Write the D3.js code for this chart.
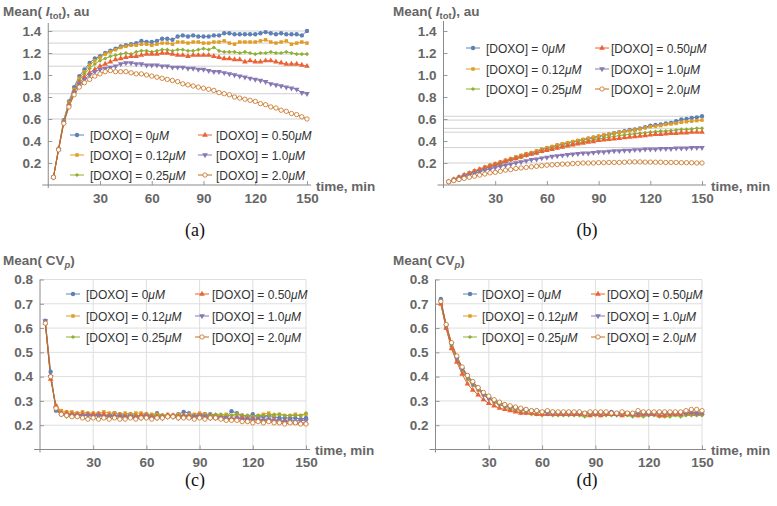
<!DOCTYPE html>
<html lang="en">
<head>
<meta charset="UTF-8" />
<title>DOXO means</title>
<style>
  body { margin: 0; background: #fff; }
  svg { font-family: "Liberation Sans", Arial, sans-serif; }
  .tick text { font-size: 13.5px; font-weight: bold; fill: #666; }
  .tick line { stroke: #999; }
  .leg { font-size: 12px; fill: #333; }
  .axlab { font-size: 13.5px; font-weight: bold; fill: #666; }
  .cap { font-family: "Liberation Serif", "Times New Roman", serif; font-size: 18px; fill: #111; }
</style>
</head>
<body>
<svg id="fig" width="777" height="506"></svg>
<script src="https://d3js.org/d3.v7.min.js"></script>
<script>
// ---- data ----
const times = [3, 6, 9, 12, 15, 18, 21, 24, 27, 30,
               33, 36, 39, 42, 45, 48, 51, 54, 57, 60,
               63, 66, 69, 72, 75, 78, 81, 84, 87, 90,
               93, 96, 99, 102, 105, 108, 111, 114, 117, 120,
               123, 126, 129, 132, 135, 138, 141, 144, 147, 150];
const doses = ["0", "0.12", "0.25", "0.50", "1.0", "2.0"];
const colors = ["#5E81B5", "#E19C24", "#8FB032", "#EB6235", "#8778B3", "#C56E1A"];
const xTicks = [30, 60, 90, 120, 150];
const yTicksI = [0.2, 0.4, 0.6, 0.8, 1.0, 1.2, 1.4];
const yTicksCV = [0.2, 0.3, 0.4, 0.5, 0.6, 0.7, 0.8];
const captions = ["(a)", "(b)", "(c)", "(d)"];

// (a) Mean(I_tot)
const a0 = [0.07, 0.33, 0.59, 0.76, 0.89, 0.99, 1.05, 1.11, 1.15, 1.17,
            1.20, 1.22, 1.24, 1.26, 1.27, 1.28, 1.29, 1.31, 1.30, 1.30,
            1.31, 1.33, 1.33, 1.32, 1.35, 1.36, 1.35, 1.36, 1.35, 1.35,
            1.35, 1.36, 1.36, 1.38, 1.38, 1.37, 1.37, 1.37, 1.37, 1.37,
            1.38, 1.39, 1.38, 1.37, 1.38, 1.37, 1.37, 1.37, 1.36, 1.40];
const a012 = [0.07, 0.33, 0.58, 0.75, 0.87, 0.97, 1.03, 1.09, 1.13, 1.16,
              1.19, 1.21, 1.23, 1.25, 1.26, 1.27, 1.27, 1.28, 1.28, 1.27,
              1.28, 1.29, 1.29, 1.28, 1.30, 1.30, 1.29, 1.30, 1.30, 1.29,
              1.29, 1.30, 1.30, 1.31, 1.29, 1.28, 1.30, 1.30, 1.30, 1.30,
              1.31, 1.32, 1.30, 1.29, 1.30, 1.31, 1.28, 1.29, 1.30, 1.29];
const a025 = [0.07, 0.33, 0.58, 0.74, 0.86, 0.95, 1.01, 1.06, 1.10, 1.13,
              1.15, 1.17, 1.18, 1.19, 1.20, 1.19, 1.21, 1.22, 1.22, 1.21,
              1.22, 1.23, 1.23, 1.22, 1.23, 1.23, 1.22, 1.22, 1.23, 1.24,
              1.23, 1.25, 1.22, 1.21, 1.21, 1.21, 1.20, 1.21, 1.20, 1.19,
              1.20, 1.20, 1.21, 1.20, 1.20, 1.21, 1.20, 1.19, 1.19, 1.19];
const a050 = [0.07, 0.33, 0.57, 0.73, 0.85, 0.93, 0.98, 1.02, 1.05, 1.08,
              1.10, 1.12, 1.14, 1.15, 1.16, 1.17, 1.17, 1.18, 1.19, 1.19,
              1.19, 1.20, 1.20, 1.19, 1.18, 1.18, 1.17, 1.18, 1.18, 1.18,
              1.18, 1.17, 1.16, 1.15, 1.15, 1.14, 1.14, 1.12, 1.13, 1.12,
              1.12, 1.13, 1.13, 1.12, 1.11, 1.10, 1.10, 1.10, 1.09, 1.08];
const a10 = [0.07, 0.32, 0.57, 0.72, 0.84, 0.92, 0.96, 1.00, 1.03, 1.05,
             1.06, 1.07, 1.08, 1.10, 1.11, 1.11, 1.10, 1.10, 1.09, 1.09,
             1.09, 1.08, 1.08, 1.07, 1.07, 1.07, 1.06, 1.06, 1.05, 1.05,
             1.04, 1.03, 1.03, 1.02, 1.01, 1.00, 0.99, 0.98, 0.97, 0.96,
             0.95, 0.94, 0.92, 0.91, 0.90, 0.89, 0.88, 0.87, 0.84, 0.83];
const a20 = [0.07, 0.32, 0.56, 0.71, 0.82, 0.89, 0.93, 0.96, 0.99, 1.01,
             1.03, 1.04, 1.03, 1.03, 1.03, 1.02, 1.01, 1.01, 1.00, 0.99,
             0.98, 0.97, 0.96, 0.95, 0.94, 0.92, 0.91, 0.90, 0.89, 0.88,
             0.87, 0.86, 0.84, 0.83, 0.82, 0.80, 0.79, 0.78, 0.77, 0.76,
             0.74, 0.73, 0.71, 0.70, 0.68, 0.67, 0.65, 0.64, 0.62, 0.60];

// (b) Mean(I_tot)
const b0 = [0.03, 0.05, 0.07, 0.09, 0.11, 0.125, 0.14, 0.16, 0.175, 0.19,
            0.205, 0.22, 0.235, 0.25, 0.265, 0.28, 0.29, 0.305, 0.32, 0.335,
            0.345, 0.36, 0.37, 0.38, 0.39, 0.40, 0.41, 0.42, 0.43, 0.44,
            0.45, 0.46, 0.47, 0.48, 0.49, 0.50, 0.505, 0.515, 0.525, 0.54,
            0.545, 0.55, 0.56, 0.565, 0.58, 0.595, 0.60, 0.61, 0.615, 0.625];
const b012 = [0.03, 0.05, 0.07, 0.09, 0.11, 0.13, 0.145, 0.165, 0.18, 0.195,
              0.21, 0.225, 0.24, 0.255, 0.27, 0.285, 0.295, 0.31, 0.325, 0.34,
              0.35, 0.365, 0.375, 0.385, 0.395, 0.405, 0.415, 0.425, 0.435, 0.445,
              0.455, 0.46, 0.47, 0.48, 0.485, 0.495, 0.50, 0.51, 0.52, 0.53,
              0.535, 0.54, 0.55, 0.555, 0.56, 0.57, 0.575, 0.58, 0.585, 0.59];
const b025 = [0.03, 0.045, 0.065, 0.085, 0.10, 0.12, 0.135, 0.15, 0.165, 0.18,
              0.195, 0.21, 0.225, 0.24, 0.25, 0.265, 0.28, 0.29, 0.305, 0.32,
              0.33, 0.34, 0.35, 0.36, 0.37, 0.38, 0.39, 0.40, 0.41, 0.42,
              0.425, 0.435, 0.44, 0.45, 0.455, 0.46, 0.465, 0.47, 0.475, 0.48,
              0.485, 0.49, 0.49, 0.495, 0.50, 0.505, 0.505, 0.51, 0.515, 0.515];
const b050 = [0.03, 0.05, 0.07, 0.09, 0.105, 0.125, 0.14, 0.155, 0.17, 0.185,
              0.20, 0.215, 0.23, 0.24, 0.255, 0.27, 0.28, 0.29, 0.305, 0.315,
              0.325, 0.335, 0.345, 0.355, 0.365, 0.375, 0.38, 0.39, 0.395, 0.405,
              0.41, 0.415, 0.42, 0.425, 0.43, 0.435, 0.44, 0.445, 0.45, 0.455,
              0.46, 0.46, 0.465, 0.47, 0.47, 0.475, 0.475, 0.48, 0.48, 0.48];
const b10 = [0.03, 0.045, 0.06, 0.075, 0.09, 0.105, 0.12, 0.135, 0.145, 0.16,
             0.17, 0.18, 0.19, 0.20, 0.21, 0.22, 0.23, 0.235, 0.245, 0.25,
             0.26, 0.265, 0.27, 0.275, 0.28, 0.285, 0.29, 0.29, 0.295, 0.30,
             0.30, 0.305, 0.31, 0.31, 0.315, 0.315, 0.32, 0.32, 0.325, 0.325,
             0.325, 0.33, 0.33, 0.33, 0.335, 0.335, 0.335, 0.34, 0.34, 0.34];
const b20 = [0.03, 0.04, 0.05, 0.06, 0.07, 0.08, 0.09, 0.10, 0.11, 0.115,
             0.125, 0.135, 0.14, 0.15, 0.155, 0.16, 0.165, 0.17, 0.175, 0.18,
             0.183, 0.186, 0.19, 0.19, 0.195, 0.197, 0.20, 0.20, 0.20, 0.203,
             0.203, 0.205, 0.205, 0.205, 0.207, 0.21, 0.21, 0.21, 0.208, 0.208,
             0.207, 0.207, 0.205, 0.205, 0.205, 0.203, 0.203, 0.202, 0.20, 0.20];

// (c) Mean(CV_p)
const c0 = [0.63, 0.42, 0.26, 0.245, 0.245, 0.245, 0.245, 0.24, 0.245, 0.24,
            0.245, 0.24, 0.24, 0.25, 0.245, 0.24, 0.245, 0.24, 0.24, 0.245,
            0.24, 0.25, 0.24, 0.24, 0.24, 0.245, 0.255, 0.25, 0.24, 0.245,
            0.245, 0.245, 0.24, 0.235, 0.235, 0.258, 0.25, 0.24, 0.235, 0.245,
            0.235, 0.235, 0.24, 0.235, 0.23, 0.23, 0.23, 0.23, 0.225, 0.23];
const c012 = [0.62, 0.40, 0.28, 0.26, 0.255, 0.255, 0.25, 0.255, 0.25, 0.25,
              0.25, 0.255, 0.25, 0.25, 0.245, 0.25, 0.245, 0.25, 0.25, 0.245,
              0.245, 0.245, 0.24, 0.245, 0.24, 0.245, 0.24, 0.245, 0.245, 0.25,
              0.245, 0.24, 0.24, 0.24, 0.245, 0.24, 0.245, 0.24, 0.24, 0.235,
              0.24, 0.245, 0.25, 0.24, 0.245, 0.24, 0.24, 0.245, 0.24, 0.245];
const c025 = [0.62, 0.40, 0.27, 0.245, 0.235, 0.24, 0.24, 0.24, 0.245, 0.24,
              0.24, 0.235, 0.24, 0.24, 0.24, 0.235, 0.24, 0.24, 0.235, 0.24,
              0.24, 0.24, 0.24, 0.24, 0.235, 0.24, 0.24, 0.235, 0.24, 0.24,
              0.24, 0.24, 0.245, 0.245, 0.24, 0.24, 0.245, 0.24, 0.24, 0.235,
              0.24, 0.24, 0.24, 0.245, 0.245, 0.24, 0.24, 0.24, 0.24, 0.25];
const c050 = [0.62, 0.39, 0.28, 0.25, 0.25, 0.245, 0.245, 0.245, 0.245, 0.245,
              0.245, 0.245, 0.24, 0.24, 0.24, 0.235, 0.235, 0.235, 0.24, 0.24,
              0.235, 0.235, 0.235, 0.24, 0.24, 0.235, 0.24, 0.235, 0.235, 0.24,
              0.235, 0.235, 0.23, 0.23, 0.225, 0.225, 0.23, 0.23, 0.225, 0.225,
              0.22, 0.22, 0.22, 0.22, 0.215, 0.215, 0.215, 0.21, 0.21, 0.21];
const c10 = [0.63, 0.40, 0.27, 0.245, 0.24, 0.24, 0.24, 0.24, 0.24, 0.235,
             0.24, 0.235, 0.235, 0.235, 0.235, 0.23, 0.235, 0.23, 0.23, 0.235,
             0.23, 0.23, 0.23, 0.235, 0.235, 0.23, 0.235, 0.235, 0.235, 0.235,
             0.235, 0.23, 0.23, 0.23, 0.23, 0.225, 0.23, 0.225, 0.225, 0.225,
             0.225, 0.22, 0.225, 0.22, 0.22, 0.215, 0.22, 0.215, 0.22, 0.22];
const c20 = [0.62, 0.40, 0.27, 0.245, 0.24, 0.235, 0.235, 0.23, 0.225, 0.23,
             0.225, 0.23, 0.225, 0.23, 0.225, 0.225, 0.23, 0.225, 0.23, 0.23,
             0.225, 0.23, 0.23, 0.235, 0.235, 0.23, 0.23, 0.23, 0.225, 0.23,
             0.225, 0.23, 0.23, 0.225, 0.22, 0.22, 0.22, 0.215, 0.215, 0.21,
             0.215, 0.21, 0.215, 0.21, 0.21, 0.205, 0.21, 0.21, 0.205, 0.205];

// (d) Mean(CV_p)
const d0 = [0.72, 0.61, 0.535, 0.48, 0.435, 0.405, 0.375, 0.355, 0.33, 0.315,
            0.30, 0.29, 0.285, 0.275, 0.27, 0.265, 0.265, 0.26, 0.26, 0.255,
            0.255, 0.255, 0.25, 0.25, 0.255, 0.25, 0.25, 0.25, 0.25, 0.25,
            0.25, 0.25, 0.255, 0.25, 0.25, 0.245, 0.25, 0.245, 0.25, 0.25,
            0.25, 0.25, 0.25, 0.25, 0.245, 0.25, 0.25, 0.25, 0.245, 0.245];
const d012 = [0.70, 0.60, 0.52, 0.465, 0.425, 0.39, 0.365, 0.345, 0.325, 0.31,
              0.295, 0.285, 0.28, 0.27, 0.265, 0.26, 0.26, 0.255, 0.255, 0.25,
              0.255, 0.25, 0.25, 0.25, 0.25, 0.245, 0.245, 0.25, 0.245, 0.245,
              0.245, 0.25, 0.245, 0.245, 0.245, 0.245, 0.245, 0.24, 0.245, 0.245,
              0.245, 0.24, 0.245, 0.245, 0.245, 0.25, 0.245, 0.245, 0.25, 0.245];
const d025 = [0.70, 0.60, 0.525, 0.47, 0.425, 0.39, 0.365, 0.345, 0.325, 0.31,
              0.295, 0.285, 0.275, 0.265, 0.26, 0.25, 0.25, 0.245, 0.245, 0.24,
              0.245, 0.24, 0.24, 0.24, 0.24, 0.24, 0.24, 0.235, 0.24, 0.24,
              0.24, 0.24, 0.24, 0.24, 0.24, 0.24, 0.235, 0.24, 0.235, 0.24,
              0.24, 0.235, 0.235, 0.235, 0.24, 0.235, 0.24, 0.24, 0.24, 0.24];
const d050 = [0.70, 0.60, 0.515, 0.46, 0.41, 0.37, 0.345, 0.325, 0.305, 0.29,
              0.28, 0.27, 0.265, 0.26, 0.255, 0.25, 0.25, 0.25, 0.245, 0.245,
              0.245, 0.245, 0.245, 0.245, 0.245, 0.245, 0.245, 0.245, 0.24, 0.245,
              0.24, 0.245, 0.245, 0.245, 0.24, 0.245, 0.245, 0.24, 0.245, 0.245,
              0.245, 0.24, 0.24, 0.245, 0.245, 0.245, 0.25, 0.25, 0.25, 0.25];
const d10 = [0.71, 0.61, 0.535, 0.475, 0.43, 0.40, 0.37, 0.35, 0.325, 0.31,
             0.30, 0.29, 0.28, 0.275, 0.27, 0.265, 0.26, 0.26, 0.255, 0.255,
             0.25, 0.25, 0.25, 0.25, 0.25, 0.25, 0.25, 0.25, 0.25, 0.25,
             0.25, 0.25, 0.25, 0.245, 0.25, 0.25, 0.245, 0.25, 0.25, 0.245,
             0.25, 0.25, 0.25, 0.25, 0.25, 0.25, 0.25, 0.255, 0.25, 0.25];
const d20 = [0.71, 0.615, 0.54, 0.485, 0.44, 0.405, 0.38, 0.355, 0.335, 0.32,
             0.305, 0.295, 0.285, 0.28, 0.275, 0.27, 0.265, 0.26, 0.26, 0.255,
             0.26, 0.255, 0.255, 0.255, 0.255, 0.255, 0.255, 0.25, 0.255, 0.255,
             0.255, 0.255, 0.25, 0.25, 0.255, 0.25, 0.25, 0.26, 0.255, 0.255,
             0.255, 0.255, 0.255, 0.255, 0.255, 0.255, 0.26, 0.265, 0.265, 0.26];

// ---- drawing ----
const svg = d3.select("#fig");

const shapes = [d3.symbolCircle, d3.symbolSquare, d3.symbolSquare, d3.symbolTriangle, d3.symbolTriangle, d3.symbolCircle];
const sizes = [15, 12, 9, 14, 14, 15];
const rots = [0, 0, 45, 0, 180, 0];

function marker(sel, i) {
  sel.attr("d", d3.symbol(shapes[i], sizes[i])())
     .attr("fill", i === 5 ? "white" : colors[i])
     .attr("stroke", i === 5 ? colors[i] : "none")
     .attr("stroke-width", 0.8);
}

function drawPanel(p) {
  const g = svg.append("g");
  const x = d3.scaleLinear().domain([0, 150]).range([p.left, p.right]);
  const y = d3.scaleLinear().domain(p.yDomain).range([p.bottom, p.top]);

  // grid lines
  if (p.grid === "ends") {
    g.append("g").selectAll("line")
      .data(p.series.map(s => s[s.length - 1]))
      .join("line")
      .attr("x1", x(0)).attr("x2", x(150))
      .attr("y1", d => y(d)).attr("y2", d => y(d))
      .attr("stroke", "#d0d0d0");
  } else {
    g.append("g").selectAll("line")
      .data(p.yTicks)
      .join("line")
      .attr("x1", x(0)).attr("x2", x(150))
      .attr("y1", d => y(d)).attr("y2", d => y(d))
      .attr("stroke", "#dedede");
    g.append("g").selectAll("line")
      .data(xTicks)
      .join("line")
      .attr("x1", d => x(d)).attr("x2", d => x(d))
      .attr("y1", y(p.yDomain[0])).attr("y2", y(p.yTicks[p.yTicks.length - 1]))
      .attr("stroke", "#dedede");
  }

  // axes
  const xAxis = d3.axisBottom(x).tickValues(xTicks).tickSizeInner(-4).tickSizeOuter(0).tickPadding(8)
    .tickFormat(d3.format("d"));
  const gx = g.append("g").attr("transform", `translate(0,${p.bottom})`).call(xAxis);
  gx.select(".domain").remove();

  const yAxis = d3.axisLeft(y).tickValues(p.yTicks).tickSizeInner(-4).tickSizeOuter(0).tickPadding(7)
    .tickFormat(d3.format(".1f"));
  const gy = g.append("g").attr("transform", `translate(${x(0)},0)`).call(yAxis);
  gy.select(".domain").remove();

  g.append("line")
    .attr("x1", x(0) - 6).attr("x2", x(150) + 4)
    .attr("y1", p.bottom).attr("y2", p.bottom)
    .attr("stroke", "#8a8a8a");
  g.append("line")
    .attr("x1", x(0)).attr("x2", x(0))
    .attr("y1", p.bottom + 3).attr("y2", p.axisTop)
    .attr("stroke", "#8a8a8a");

  // series: lines then markers, in order
  const line = d3.line().x(d => x(d[0])).y(d => y(d[1]));
  p.series.forEach((vals, i) => {
    const pts = times.map((t, k) => [t, vals[k]]);
    g.append("path").datum(pts)
      .attr("d", line).attr("fill", "none")
      .attr("stroke", colors[i]).attr("stroke-width", 1);
  });
  p.series.forEach((vals, i) => {
    const pts = times.map((t, k) => [t, vals[k]]);
    g.append("g").selectAll("path").data(pts).join("path")
      .attr("transform", d => `translate(${x(d[0])},${y(d[1])}) rotate(${rots[i]})`)
      .call(marker, i);
  });

  // legend
  doses.forEach((dose, i) => {
    const col = Math.floor(i / 3), row = i % 3;
    const mx = p.legend.mx[col], tx = p.legend.tx[col], ly = p.legend.y[row];
    g.append("line").attr("x1", mx - 7).attr("x2", mx + 7).attr("y1", ly).attr("y2", ly)
      .attr("stroke", colors[i]);
    g.append("path").attr("transform", `translate(${mx},${ly}) rotate(${rots[i]})`).call(marker, i);
    const t = g.append("text").attr("class", "leg").attr("x", tx).attr("y", ly + 4.5);
    t.append("tspan").text(`[DOXO] = ${dose}`);
    t.append("tspan").attr("font-style", "italic").text("\u03bcM");
  });

  // axis labels
  const yl = g.append("text").attr("class", "axlab").attr("x", p.ylabX).attr("y", p.ylabY);
  if (p.kind === "I") {
    yl.append("tspan").text("Mean( ");
    yl.append("tspan").attr("font-style", "italic").text("I");
    yl.append("tspan").attr("font-size", "9.5px").attr("dy", 3).text("tot");
    yl.append("tspan").attr("dy", -3).text("), au");
  } else {
    yl.append("tspan").text("Mean( CV");
    yl.append("tspan").attr("font-size", "9.5px").attr("font-style", "italic").attr("dy", 3).text("p");
    yl.append("tspan").attr("dy", -3).text(")");
  }
  g.append("text").attr("class", "axlab")
    .attr("x", x(150) + 9).attr("y", p.bottom + 5.5).text("time, min");

  g.append("text").attr("class", "cap").attr("text-anchor", "middle")
    .attr("x", p.capX).attr("y", p.capY).text(p.caption);
}

drawPanel({
  caption: captions[0], capX: 195, capY: 236, kind: "I",
  series: [a0, a012, a025, a050, a10, a20], grid: "ends",
  left: 48.25, right: 307, bottom: 185, top: 20, axisTop: 23, yDomain: [0, 1.5], yTicks: yTicksI,
  ylabX: 3, ylabY: 16,
  legend: { mx: [77, 205], tx: [90, 216], y: [135, 155, 175] }
});
drawPanel({
  caption: captions[1], capX: 587, capY: 236, kind: "I",
  series: [b0, b012, b025, b050, b10, b20], grid: "ends",
  left: 443.5, right: 702, bottom: 185, top: 20, axisTop: 21, yDomain: [0, 1.5], yTicks: yTicksI,
  ylabX: 393, ylabY: 16,
  legend: { mx: [473, 602], tx: [486, 611], y: [48, 69, 89] }
});
drawPanel({
  caption: captions[2], capX: 195, capY: 486, kind: "CV",
  series: [c0, c012, c025, c050, c10, c20], grid: "full",
  left: 40, right: 306, bottom: 449.5, top: 279.5, axisTop: 279.5, yDomain: [0.1, 0.8], yTicks: yTicksCV,
  ylabX: 3, ylabY: 265,
  legend: { mx: [73, 202], tx: [86, 212], y: [294, 316, 337] }
});
drawPanel({
  caption: captions[3], capX: 587, capY: 486, kind: "CV",
  series: [d0, d012, d025, d050, d10, d20], grid: "full",
  left: 435.5, right: 702, bottom: 449.5, top: 279.5, axisTop: 279.5, yDomain: [0.1, 0.8], yTicks: yTicksCV,
  ylabX: 393, ylabY: 265,
  legend: { mx: [470, 598], tx: [482, 607], y: [294, 316, 337] }
});
</script>
</body>
</html>
